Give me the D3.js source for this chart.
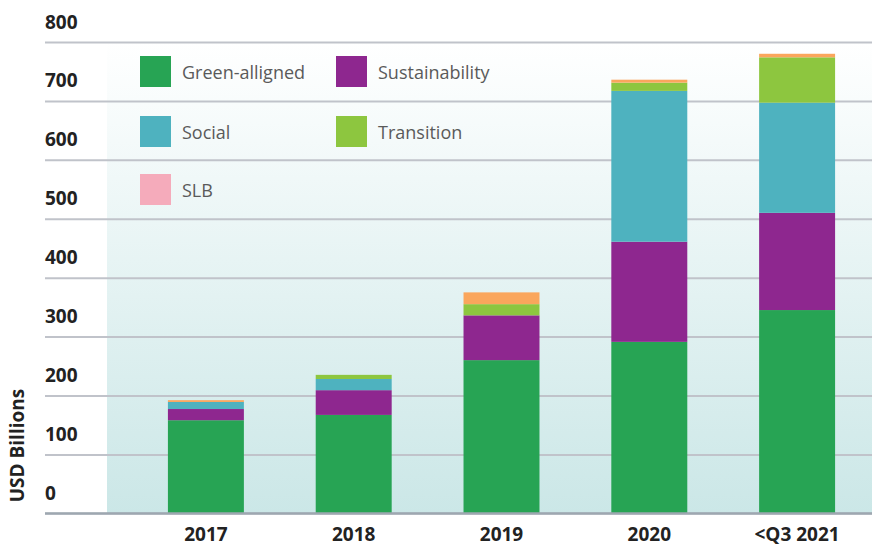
<!DOCTYPE html>
<html>
<head>
<meta charset="utf-8">
<script src="https://cdn.jsdelivr.net/npm/d3@7"></script>
<style>
  html, body { margin: 0; padding: 0; background: #ffffff; }
  svg { display: block; }
</style>
</head>
<body>
<svg id="chart" width="872" height="547"></svg>
<script>
// ---- data ----
const categories = ["2017", "2018", "2019", "2020", "<Q3 2021"];
const seriesNames = ["Green-alligned", "Sustainability", "Social", "Transition", "SLB"];
const greenAligned   = [158, 167, 260, 291, 345];
const sustainability = [19, 42, 76, 170, 165];
const social         = [12, 19, 0, 256, 187];
const transition     = [0, 7, 19, 14, 77];
const slb            = [3, 0, 20, 5, 6];
const yTicks = [0, 100, 200, 300, 400, 500, 600, 700, 800];

// ---- styles ----
const barColors    = ["#27a454", "#8e278f", "#4eb2bf", "#8dc63f", "#faa65c"];
const legendColors = ["#27a454", "#8e278f", "#4eb2bf", "#8dc63f", "#f5abbb"];

const rows = categories.map((c, i) => ({
  cat: c,
  "Green-alligned": greenAligned[i],
  "Sustainability": sustainability[i],
  "Social": social[i],
  "Transition": transition[i],
  "SLB": slb[i]
}));

const svg = d3.select("#chart");
const W = 872, H = 547;

const y = d3.scaleLinear().domain([0, 800]).range([513.3, 42]);
const x = d3.scaleBand().domain(categories).range([132, 871])
  .paddingInner(0.486).paddingOuter(0.243);

// background panel gradient
const defs = svg.append("defs");
const grad = defs.append("linearGradient").attr("id", "bg")
  .attr("x1", 0).attr("y1", 0).attr("x2", 0).attr("y2", 1);
grad.append("stop").attr("offset", "0%").attr("stop-color", "#ffffff");
grad.append("stop").attr("offset", "100%").attr("stop-color", "#cbe7e7");

svg.append("rect")
  .attr("x", 107).attr("y", y(800))
  .attr("width", W - 107).attr("height", y(0) - y(800))
  .attr("fill", "url(#bg)");

// gridlines + y labels via axis
const yAxis = d3.axisRight(y).tickValues(yTicks).tickSize(W - 45).tickFormat(d3.format("d"));
const gy = svg.append("g").attr("transform", "translate(45,0)").call(yAxis);
gy.select(".domain").remove();
gy.selectAll(".tick line")
  .attr("stroke", d => d === 0 ? "#9ea7b0" : "#c0c3ca")
  .attr("stroke-width", 2);
gy.selectAll(".tick text")
  .attr("x", 0).attr("y", -14).attr("dy", 0)
  .attr("text-anchor", "start")
  .attr("fill", "#222222")
  .style("font-family", "'Open Sans', sans-serif")
  .style("font-weight", 700)
  .style("font-size", "19px");

// legend
const legendPos = [
  [140, 56], [336, 56],
  [140, 116], [336, 116],
  [140, 174]
];
const lg = svg.append("g");
seriesNames.forEach((name, i) => {
  const [lx, ly] = legendPos[i];
  lg.append("rect").attr("x", lx).attr("y", ly).attr("width", 31).attr("height", 31)
    .attr("fill", legendColors[i]);
  lg.append("text").attr("x", lx + 42).attr("y", ly + 23)
    .attr("fill", "#5a5a5a")
    .style("font-family", "'Open Sans', sans-serif")
    .style("font-size", "18px")
    .text(name);
});

// stacked bars
const stack = d3.stack().keys(seriesNames);
const stacked = stack(rows);
svg.append("g").selectAll("g")
  .data(stacked)
  .join("g")
  .attr("fill", (d, i) => barColors[i])
  .selectAll("rect")
  .data(d => d)
  .join("rect")
  .attr("x", d => x(d.data.cat))
  .attr("width", x.bandwidth())
  .attr("y", d => y(d[1]))
  .attr("height", d => Math.max(0, y(d[0]) - y(d[1])));

// x axis
const xAxis = d3.axisBottom(x).tickSize(0);
const gx = svg.append("g").attr("transform", `translate(0,${y(0)})`).call(xAxis);
gx.select(".domain").remove();
gx.selectAll(".tick text")
  .attr("y", 28).attr("dy", 0)
  .attr("fill", "#222222")
  .style("font-family", "'Open Sans', sans-serif")
  .style("font-weight", 700)
  .style("font-size", "19px");

// axis baseline
svg.append("line")
  .attr("x1", 45).attr("x2", W)
  .attr("y1", y(0)).attr("y2", y(0))
  .attr("stroke", "#9ea7b0").attr("stroke-width", 2);

// y axis title
svg.append("text")
  .attr("transform", `translate(24,${y(0) - 11}) rotate(-90)`)
  .attr("text-anchor", "start")
  .attr("fill", "#222222")
  .style("font-family", "'Open Sans', sans-serif")
  .style("font-weight", 700)
  .style("font-size", "19px")
  .text("USD Billions");
</script>
</body>
</html>
